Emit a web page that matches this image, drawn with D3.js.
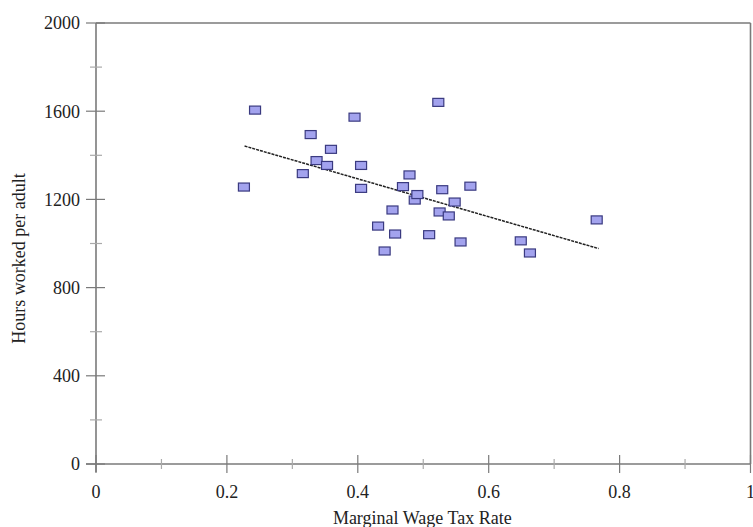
<!DOCTYPE html>
<html>
<head>
<meta charset="utf-8">
<script src="https://cdn.jsdelivr.net/npm/d3@7"></script>
<style>
  body { margin: 0; background: #fff; }
  svg text { font-family: "Liberation Serif", "DejaVu Serif", serif; fill: #222; }
</style>
</head>
<body>
<div id="chart"></div>
<script>
// tax rate vs hours worked, one point per country
var taxRate = [0.226, 0.243, 0.328, 0.316, 0.337, 0.353, 0.359, 0.395, 0.405, 0.405,
               0.431, 0.441, 0.453, 0.457, 0.469, 0.479, 0.487, 0.491, 0.509, 0.523,
               0.525, 0.529, 0.539, 0.548, 0.557, 0.572, 0.649, 0.663, 0.765];
var hours   = [1256, 1605, 1494, 1317, 1376, 1354, 1427, 1573, 1354, 1250,
               1079,  966, 1152, 1043, 1258, 1311, 1197, 1222, 1040, 1640,
               1143, 1244, 1125, 1188, 1007, 1260, 1012,  957, 1107];

// fitted trend line
var trendX = [0.227, 0.768];
var trendY = [1442, 977];

var xTicks = [0, 0.2, 0.4, 0.6, 0.8, 1];
var xMinor = [0.1, 0.3, 0.5, 0.7, 0.9];
var yTicks = [0, 400, 800, 1200, 1600, 2000];
var yMinor = [200, 600, 1000, 1400, 1800];

var width = 753, height = 527;
var pLeft = 96, pRight = 750.5, pTop = 23, pBottom = 464;

var svg = d3.select("#chart").append("svg")
    .attr("width", width)
    .attr("height", height);

var x = d3.scaleLinear().domain([0, 1]).range([pLeft, pRight]);
var y = d3.scaleLinear().domain([0, 2000]).range([pBottom, pTop]);

var axisColor = "#7a7a7a";

// frame: top and right edges
svg.append("line")
    .attr("x1", pLeft).attr("x2", pRight)
    .attr("y1", pTop).attr("y2", pTop)
    .attr("stroke", axisColor).attr("stroke-width", 1.6);
svg.append("line")
    .attr("x1", pRight).attr("x2", pRight)
    .attr("y1", pTop).attr("y2", pBottom)
    .attr("stroke", axisColor).attr("stroke-width", 1.6);

// y axis
var yAxis = svg.append("g").attr("transform", "translate(" + pLeft + ",0)");
yAxis.append("line")
    .attr("x1", 0).attr("x2", 0)
    .attr("y1", pTop).attr("y2", pBottom + 8)
    .attr("stroke", axisColor).attr("stroke-width", 1.6);
yAxis.selectAll("line.major").data(yTicks).enter().append("line")
    .attr("class", "major")
    .attr("x1", -10).attr("x2", 9)
    .attr("y1", function(d) { return y(d); })
    .attr("y2", function(d) { return y(d); })
    .attr("stroke", axisColor).attr("stroke-width", 1.2);
yAxis.selectAll("line.minor").data(yMinor).enter().append("line")
    .attr("class", "minor")
    .attr("x1", -6).attr("x2", 6)
    .attr("y1", function(d) { return y(d); })
    .attr("y2", function(d) { return y(d); })
    .attr("stroke", "#aaa").attr("stroke-width", 1.2);
yAxis.selectAll("text").data(yTicks).enter().append("text")
    .attr("x", -16)
    .attr("y", function(d) { return y(d); })
    .attr("dy", "0.35em")
    .attr("text-anchor", "end")
    .style("font-size", "18px")
    .text(function(d) { return d; });

// x axis
var xAxis = svg.append("g").attr("transform", "translate(0," + pBottom + ")");
xAxis.append("line")
    .attr("x1", pLeft - 10).attr("x2", pRight)
    .attr("y1", 0).attr("y2", 0)
    .attr("stroke", axisColor).attr("stroke-width", 1.6);
xAxis.selectAll("line.major").data(xTicks).enter().append("line")
    .attr("class", "major")
    .attr("x1", function(d) { return x(d); })
    .attr("x2", function(d) { return x(d); })
    .attr("y1", -9).attr("y2", 9)
    .attr("stroke", axisColor).attr("stroke-width", 1.2);
xAxis.selectAll("line.minor").data(xMinor).enter().append("line")
    .attr("class", "minor")
    .attr("x1", function(d) { return x(d); })
    .attr("x2", function(d) { return x(d); })
    .attr("y1", -5).attr("y2", 5)
    .attr("stroke", "#aaa").attr("stroke-width", 1.2);
xAxis.selectAll("text").data(xTicks).enter().append("text")
    .attr("x", function(d) { return x(d); })
    .attr("y", 34)
    .attr("text-anchor", "middle")
    .style("font-size", "18px")
    .text(function(d) { return d; });

// axis titles
svg.append("text")
    .attr("x", (pLeft + pRight) / 2 - 1)
    .attr("y", 524)
    .attr("text-anchor", "middle")
    .style("font-size", "18px")
    .text("Marginal Wage Tax Rate");
svg.append("text")
    .attr("transform", "translate(25," + ((pTop + pBottom) / 2 + 15) + ") rotate(-90)")
    .attr("text-anchor", "middle")
    .style("font-size", "18px")
    .text("Hours worked per adult");

// trend line
svg.append("line")
    .attr("x1", x(trendX[0])).attr("y1", y(trendY[0]))
    .attr("x2", x(trendX[1])).attr("y2", y(trendY[1]))
    .attr("stroke", "#222")
    .attr("stroke-width", 1.5)
    .attr("stroke-dasharray", "3,1");

// points
var pts = taxRate.map(function(d, i) { return {x: d, y: hours[i]}; });
svg.append("g").selectAll("rect").data(pts).enter().append("rect")
    .attr("x", function(d) { return x(d.x) - 5.5; })
    .attr("y", function(d) { return y(d.y) - 4; })
    .attr("width", 11)
    .attr("height", 8)
    .attr("fill", "#a3a3ee")
    .attr("stroke", "#3a3a80")
    .attr("stroke-width", 1.2);
</script>
</body>
</html>
